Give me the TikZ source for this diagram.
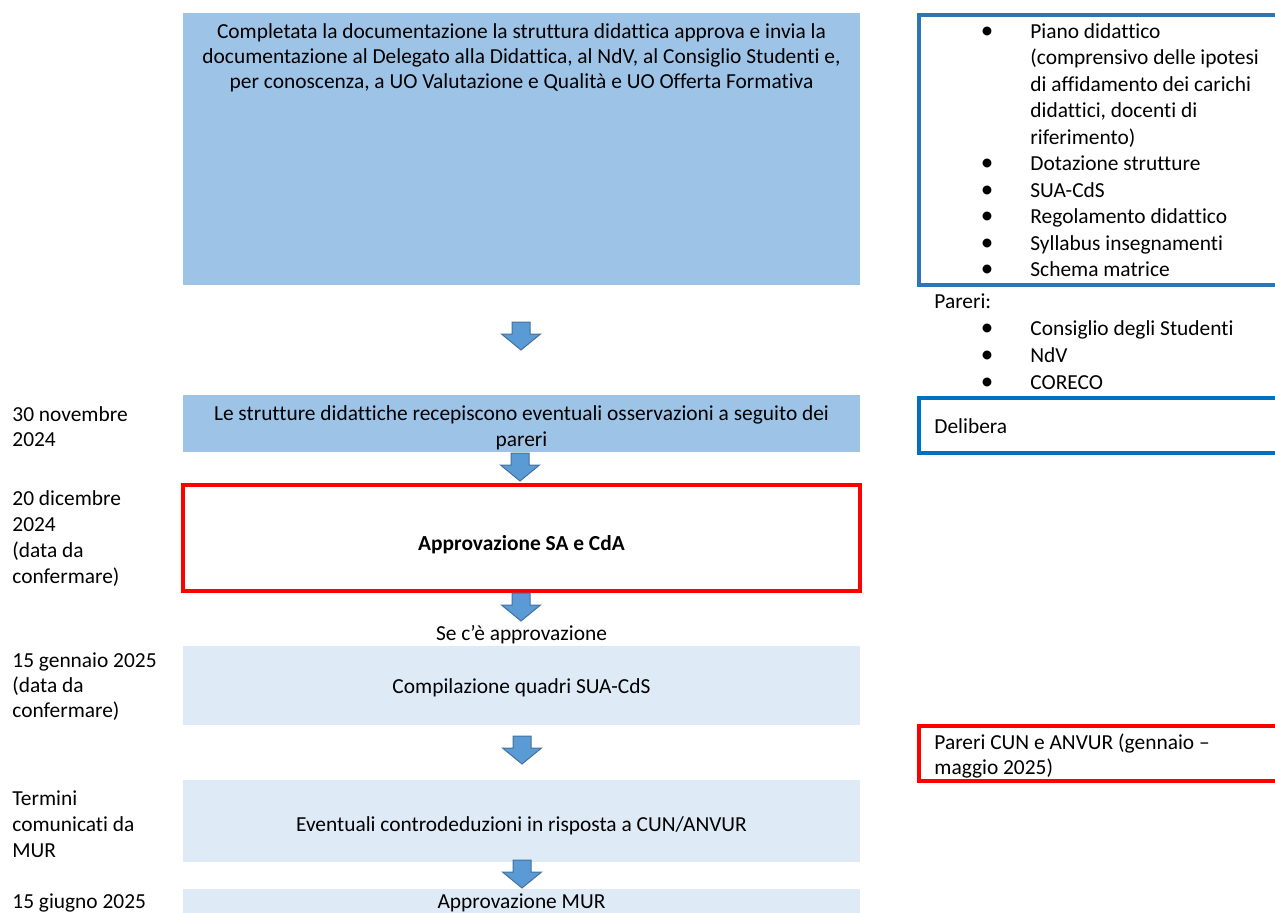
\documentclass[tikz,border=0pt]{standalone}
\usepackage{fontspec}
\setmainfont{Carlito}[Ligatures=NoCommon]
\definecolor{darkfill}{HTML}{9DC3E6}
\definecolor{lightfill}{HTML}{DEEBF7}
\definecolor{blueline}{HTML}{2E75B6}
\definecolor{blueline2}{HTML}{0070C0}
\definecolor{arrowfill}{HTML}{5B9BD5}
\definecolor{arrowline}{HTML}{41719C}
\definecolor{redline}{HTML}{FF0000}
\tikzset{
  boxbase/.style={rectangle, inner sep=0pt, outer sep=0pt, minimum width=338.5pt},
  darkbox/.style={boxbase, fill=darkfill},
  lightbox/.style={boxbase, fill=lightfill},
  redbox/.style={boxbase, draw=redline, line width=2pt},
  sidebox/.style={rectangle, inner sep=0pt, outer sep=0pt, minimum width=185.5pt, line width=2pt},
  txt/.style={anchor=base, inner sep=0pt, align=center},
  ltxt/.style={anchor=base west, inner sep=0pt, align=left},
  bul/.style={anchor=base, inner sep=0pt, font=\fontsize{12.5pt}{13pt}\selectfont},
  downarrow/.pic={\draw[fill=arrowfill, draw=arrowline, line width=0.5pt, line join=miter]
    (-9,0) -- (9,0) -- (9,12) -- (19.5,12) -- (0,28) -- (-19.5,12) -- (-9,12) -- cycle;}
}
\begin{document}
\begin{tikzpicture}[x=0.5pt, y=-0.5pt, font=\fontsize{10.7pt}{13.25pt}\selectfont]
\useasboundingbox (0,0) rectangle (1275,912);
\clip (0,0) rectangle (1275,912);

% main column boxes
\node[darkbox, minimum height=136pt] (b1) at (521.5,149) {};
\node[darkbox, minimum height=28.5pt] (b2) at (521.5,423.5) {};
\node[redbox, minimum height=53pt] (b3) at (521.5,538) {};
\node[lightbox, minimum height=39.5pt] (b4) at (521.5,685.5) {};
\node[lightbox, minimum height=41pt] (b5) at (521.5,821) {};
\node[lightbox, minimum height=20.5pt] (b6) at (521.5,909.5) {};

% texts in main column (base = baseline of last line)
\node[txt, font=\fontsize{10.7pt}{12.5pt}\selectfont] (t1) at (521.5,88)
  {Completata la documentazione la struttura didattica approva e invia la\\
   documentazione al Delegato alla Didattica, al NdV, al Consiglio Studenti e,\\
   per conoscenza, a UO Valutazione e Qualità e UO Offerta Formativa};
\node[txt, font=\fontsize{10.7pt}{13pt}\selectfont] (t2) at (521.5,446)
  {Le strutture didattiche recepiscono eventuali osservazioni a seguito dei\\ pareri};
\node[txt, font=\fontsize{10.7pt}{13.25pt}\selectfont\bfseries] (t3) at (521.5,550) {Approvazione SA e CdA};
\node[txt] (tse) at (521.5,640) {Se c’è approvazione};
\node[txt] (t4) at (521.5,693) {Compilazione quadri SUA-CdS};
\node[txt] (t5) at (521.5,831) {Eventuali controdeduzioni in risposta a CUN/ANVUR};
\node[txt] (t6) at (521.5,908) {Approvazione MUR};

% arrows
\pic at (521,322) {downarrow};
\pic at (520,453) {downarrow};
\pic at (521,593) {downarrow};
\pic at (522,736) {downarrow};
\pic at (522,860) {downarrow};

% left date labels
\node[ltxt, font=\fontsize{10.7pt}{12.5pt}\selectfont] (d1) at (12,446) {30 novembre\\2024};
\node[ltxt, font=\fontsize{10.7pt}{12.85pt}\selectfont] (d2) at (12,583) {20 dicembre\\2024\\(data da\\confermare)};
\node[ltxt, font=\fontsize{10.7pt}{12.5pt}\selectfont] (d3) at (12,717) {15 gennaio 2025\\(data da\\confermare)};
\node[ltxt, font=\fontsize{10.7pt}{13pt}\selectfont] (d4) at (12,857) {Termini\\comunicati da\\MUR};
\node[ltxt] (d5) at (12,908) {15 giugno 2025};

% right side boxes
\node[sidebox, draw=blueline, minimum height=135pt] (r1) at (1104.5,150) {};
\node[sidebox, draw=blueline2, minimum height=27.5pt] (r2) at (1104.5,425.5) {};
\node[sidebox, draw=redline, minimum height=27.5pt] (r3) at (1104.5,753.5) {};

% list in r1
\node[ltxt] (l1) at (1030,276.5) {Piano didattico\\(comprensivo delle ipotesi\\di affidamento dei carichi\\didattici, docenti di\\riferimento)\\Dotazione strutture\\SUA-CdS\\Regolamento didattico\\Syllabus insegnamenti\\Schema matrice};
\foreach \yy in {38,170.5,197,223.5,250,276.5}
  \node[bul] at (987,\yy) {•};

% pareri
\node[ltxt] (p0) at (934,308) {Pareri:};
\node[ltxt, font=\fontsize{10.7pt}{13.5pt}\selectfont] (p1) at (1030,389) {Consiglio degli Studenti\\NdV\\CORECO};
\foreach \yy in {335,362,389}
  \node[bul] at (987,\yy) {•};

\node[ltxt] (del) at (934,433) {Delibera};
\node[ltxt, font=\fontsize{10.7pt}{12.5pt}\selectfont] (cun) at (934,774) {Pareri CUN e ANVUR (gennaio –\\maggio 2025)};
\end{tikzpicture}
\end{document}
